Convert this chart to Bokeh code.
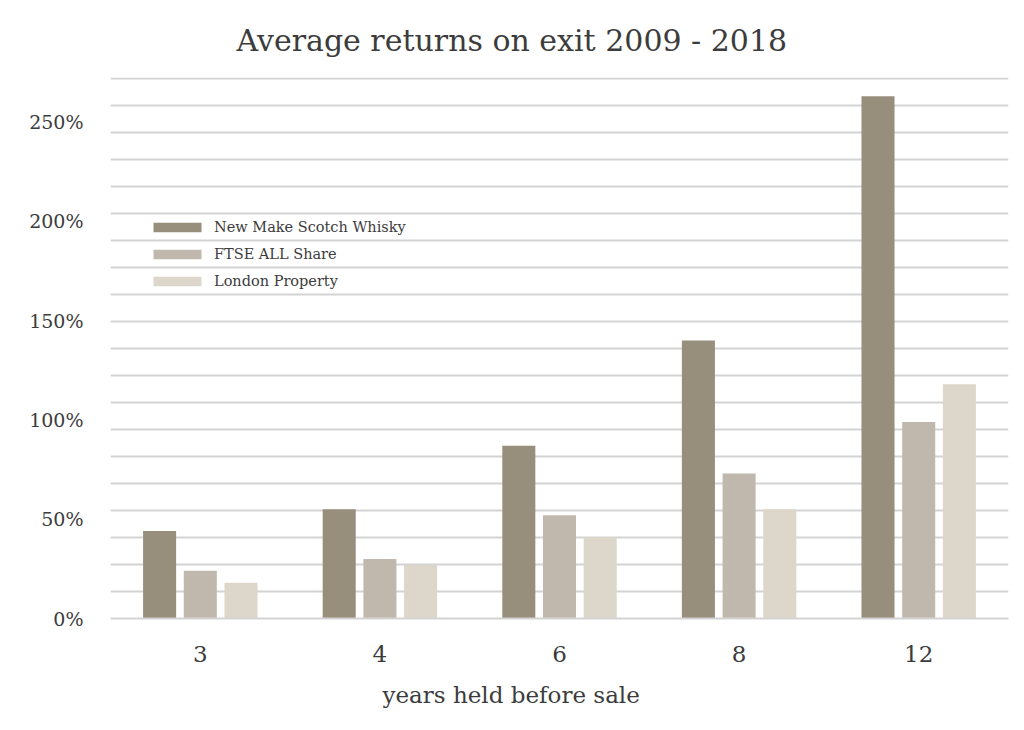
import numpy as np
from bokeh.plotting import figure
from bokeh.models import (FactorRange, Range1d, FixedTicker, PrintfTickFormatter,
                          ColumnDataSource, Title)
from bokeh.transform import dodge
from bokeh.embed import file_html
from bokeh.resources import INLINE

# ---- data ----
years = ["3", "4", "6", "8", "12"]
whisky = [44, 55, 87, 140, 263]
ftse = [24, 30, 52, 73, 99]
london = [18, 27, 41, 55, 118]
series_names = ["New Make Scotch Whisky", "FTSE ALL Share", "London Property"]
y_ticks = [0, 50, 100, 150, 200, 250]
chart_title = "Average returns on exit 2009 - 2018"
x_axis_title = "years held before sale"

# ---- style ----
colors = ["#988e7c", "#c0b8ad", "#ddd6cb"]
FONT = "DejaVu Serif"
TEXT = "#3c3c3c"
GRID = "#d3d3d3"
GRID_TOP = 272
Y_MAX = 272.4

src = ColumnDataSource(dict(years=years, whisky=whisky, ftse=ftse, london=london))

p = figure(x_range=FactorRange(factors=years), y_range=Range1d(0, Y_MAX),
           frame_width=898, frame_height=541,
           min_border_left=110, min_border_right=8, min_border_top=76, min_border_bottom=0,
           output_backend="svg", toolbar_location=None, title=chart_title)

step = 0.2266
bw = 0.184
for off, col, name, c in zip([-step, 0, step], ["whisky", "ftse", "london"], series_names, colors):
    p.vbar(x=dodge("years", off, range=p.x_range), top=col, width=bw, source=src,
           fill_color=c, line_color=None, legend_label=name)

p.outline_line_color = None
p.background_fill_color = "white"
p.border_fill_color = "white"

# grid
p.xgrid.visible = False
p.ygrid.ticker = FixedTicker(ticks=list(np.linspace(0, GRID_TOP, 21)))
p.ygrid.grid_line_color = GRID
p.ygrid.grid_line_width = 2

# y axis
p.yaxis.ticker = FixedTicker(ticks=y_ticks)
p.yaxis.formatter = PrintfTickFormatter(format="%d%%")
p.yaxis.axis_line_color = None
p.yaxis.major_tick_line_color = None
p.yaxis.minor_tick_line_color = None
p.yaxis.major_tick_out = 0
p.yaxis.major_tick_in = 0
p.yaxis.major_label_standoff = 27
p.yaxis.major_label_text_font = FONT
p.yaxis.major_label_text_font_size = "19px"
p.yaxis.major_label_text_color = TEXT

# x axis
p.xaxis.axis_line_color = GRID
p.xaxis.axis_line_width = 2
p.xaxis.major_tick_line_color = None
p.xaxis.major_tick_out = 0
p.xaxis.major_tick_in = 0
p.xaxis.major_label_standoff = 27
p.xaxis.major_label_text_font = FONT
p.xaxis.major_label_text_font_size = "23px"
p.xaxis.major_label_text_color = TEXT

# x axis title, centred on the whole figure as in the original
p.add_layout(Title(text=x_axis_title, align="left", offset=272, vertical_align="top",
                   standoff=35, text_font=FONT, text_font_size="23px", text_line_height=0.6,
                   text_font_style="normal", text_color=TEXT), "below")

# title
p.title.text_font = FONT
p.title.text_font_size = "30px"
p.title.text_font_style = "normal"
p.title.text_color = TEXT
p.title.align = "left"
p.title.offset = 126
p.title.standoff = 40

# legend
lg = p.legend[0]
lg.location = (37, 324)
lg.glyph_width = 60
lg.glyph_height = 12
lg.label_height = 27
lg.spacing = 0
lg.padding = 0
lg.margin = 0
lg.label_standoff = 7
lg.border_line_color = None
lg.background_fill_alpha = 0
lg.label_text_font = FONT
lg.label_text_font_size = "14.5px"
lg.label_text_color = TEXT

open("out.html", "w").write(file_html(p, INLINE))
